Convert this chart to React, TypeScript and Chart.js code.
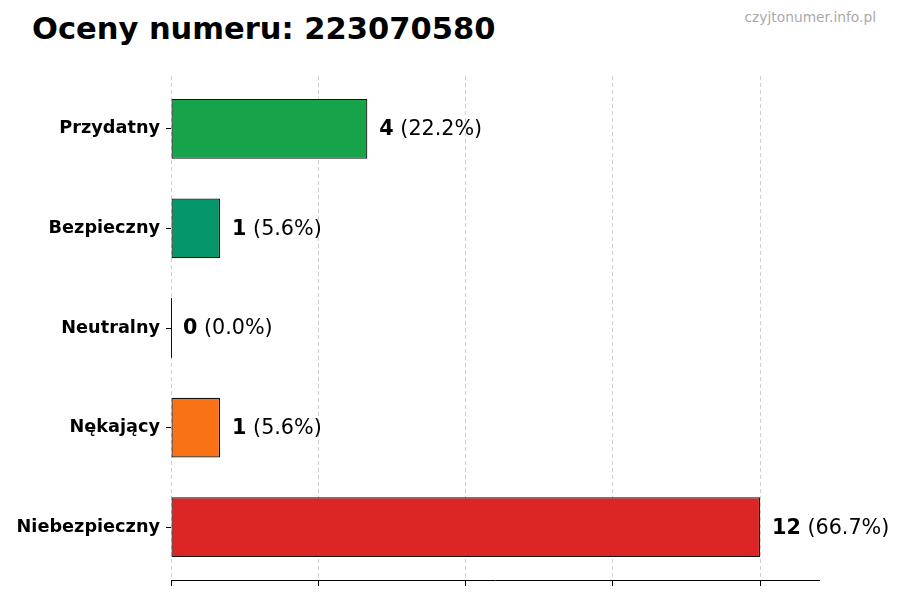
import { useEffect, useRef } from "react";
import { Chart, registerables } from "chart.js";

Chart.register(...registerables);

const categories = ["Przydatny", "Bezpieczny", "Neutralny", "Nękający", "Niebezpieczny"];
const counts = [4, 1, 0, 1, 12];
const barColors = ["#16a34a", "#059669", "#6b7280", "#f97316", "#dc2626"];
const xTicks = [0, 3, 6, 9, 12];
const xMax = 13.2;

const FONT = '"DejaVu Sans", sans-serif';

// value + percentage next to each bar, plus the outline of empty bars
const valueLabels = {
  id: "valueLabels",
  afterDraw(chart: Chart) {
    const c = chart.ctx;
    const meta = chart.getDatasetMeta(0);
    const total = counts.reduce((a, b) => a + b, 0);
    c.save();
    meta.data.forEach((bar: any, i: number) => {
      if (counts[i] === 0) {
        c.strokeStyle = "#111";
        c.lineWidth = 1;
        c.beginPath();
        c.moveTo(bar.base + 0.5, bar.y - bar.height / 2);
        c.lineTo(bar.base + 0.5, bar.y + bar.height / 2);
        c.stroke();
      }
    });
    c.textBaseline = "middle";
    c.textAlign = "left";
    c.fillStyle = "#000";
    meta.data.forEach((bar: any, i: number) => {
      const v = counts[i];
      const pct = total ? ((v / total) * 100).toFixed(1) : "0.0";
      const x = bar.x + 12;
      const y = bar.y + 1;
      c.font = `bold 20.7px ${FONT}`;
      c.fillText(String(v), x, y);
      const w = c.measureText(String(v)).width;
      c.font = `20.7px ${FONT}`;
      c.fillText(` (${pct}%)`, x + w, y);
    });
    c.restore();
  },
};

export default function App() {
  const ref = useRef<HTMLCanvasElement>(null);

  useEffect(() => {
    const canvas = ref.current;
    if (!canvas) return;
    const chart = new Chart(canvas, {
      type: "bar",
      data: {
        datasets: [
          {
            data: counts.map((v, i) => ({ x: v, y: i })),
            backgroundColor: barColors,
            borderColor: "#111",
            borderWidth: 1.2,
            borderSkipped: false,
            barPercentage: 0.6,
            categoryPercentage: 1,
          },
        ],
      },
      options: {
        indexAxis: "y",
        animation: false,
        responsive: true,
        maintainAspectRatio: false,
        layout: { padding: { left: 0, right: 81, top: 76, bottom: 0 } },
        plugins: {
          legend: { display: false },
          tooltip: { enabled: false },
          title: { display: false },
        },
        scales: {
          x: {
            type: "linear",
            min: 0,
            max: xMax,
            z: 1,
            afterBuildTicks: (axis: any) => {
              axis.ticks = xTicks.map((v) => ({ value: v }));
            },
            afterFit: (s: any) => {
              s.height = 20;
            },
            ticks: { display: false },
            grid: {
              color: "#d0d0d0",
              lineWidth: 1,
              drawTicks: true,
              tickLength: 6,
              tickColor: "#000",
              tickWidth: 1,
              tickBorderDash: [],
            },
            border: { display: true, color: "#000", width: 1, dash: [4, 3] },
          },
          y: {
            type: "linear",
            reverse: true,
            offset: false,
            min: -0.53,
            max: categories.length - 1 + 0.53,
            afterBuildTicks: (axis: any) => {
              axis.ticks = categories.map((_, i) => ({ value: i }));
            },
            afterFit: (s: any) => {
              s.width = 171;
            },
            ticks: {
              color: "#000",
              font: { family: FONT, size: 17.7, weight: "bold" },
              padding: 6,
              callback: (v: any) => categories[Number(v)] ?? "",
            },
            grid: {
              display: true,
              offset: false,
              drawOnChartArea: false,
              drawTicks: true,
              tickLength: 5,
              tickColor: "#000",
              tickWidth: 1,
            },
            border: { display: false },
          },
        },
      },
      plugins: [valueLabels],
    });
    return () => chart.destroy();
  }, []);

  return (
    <div
      style={{
        position: "fixed",
        left: 0,
        top: 0,
        width: 900,
        height: 600,
        background: "#fff",
        fontFamily: FONT,
      }}
    >
      <div
        style={{
          position: "absolute",
          left: 32,
          top: 11,
          fontSize: 30.5,
          fontWeight: "bold",
          color: "#000",
          lineHeight: "normal",
          whiteSpace: "nowrap",
        }}
      >
        Oceny numeru: 223070580
      </div>
      <div
        style={{
          position: "absolute",
          right: 24,
          top: 9,
          fontSize: 13.8,
          color: "#aaa",
          lineHeight: "normal",
          whiteSpace: "nowrap",
        }}
      >
        czyjtonumer.info.pl
      </div>
      <div style={{ position: "absolute", inset: 0 }}>
        <canvas ref={ref} />
      </div>
    </div>
  );
}
